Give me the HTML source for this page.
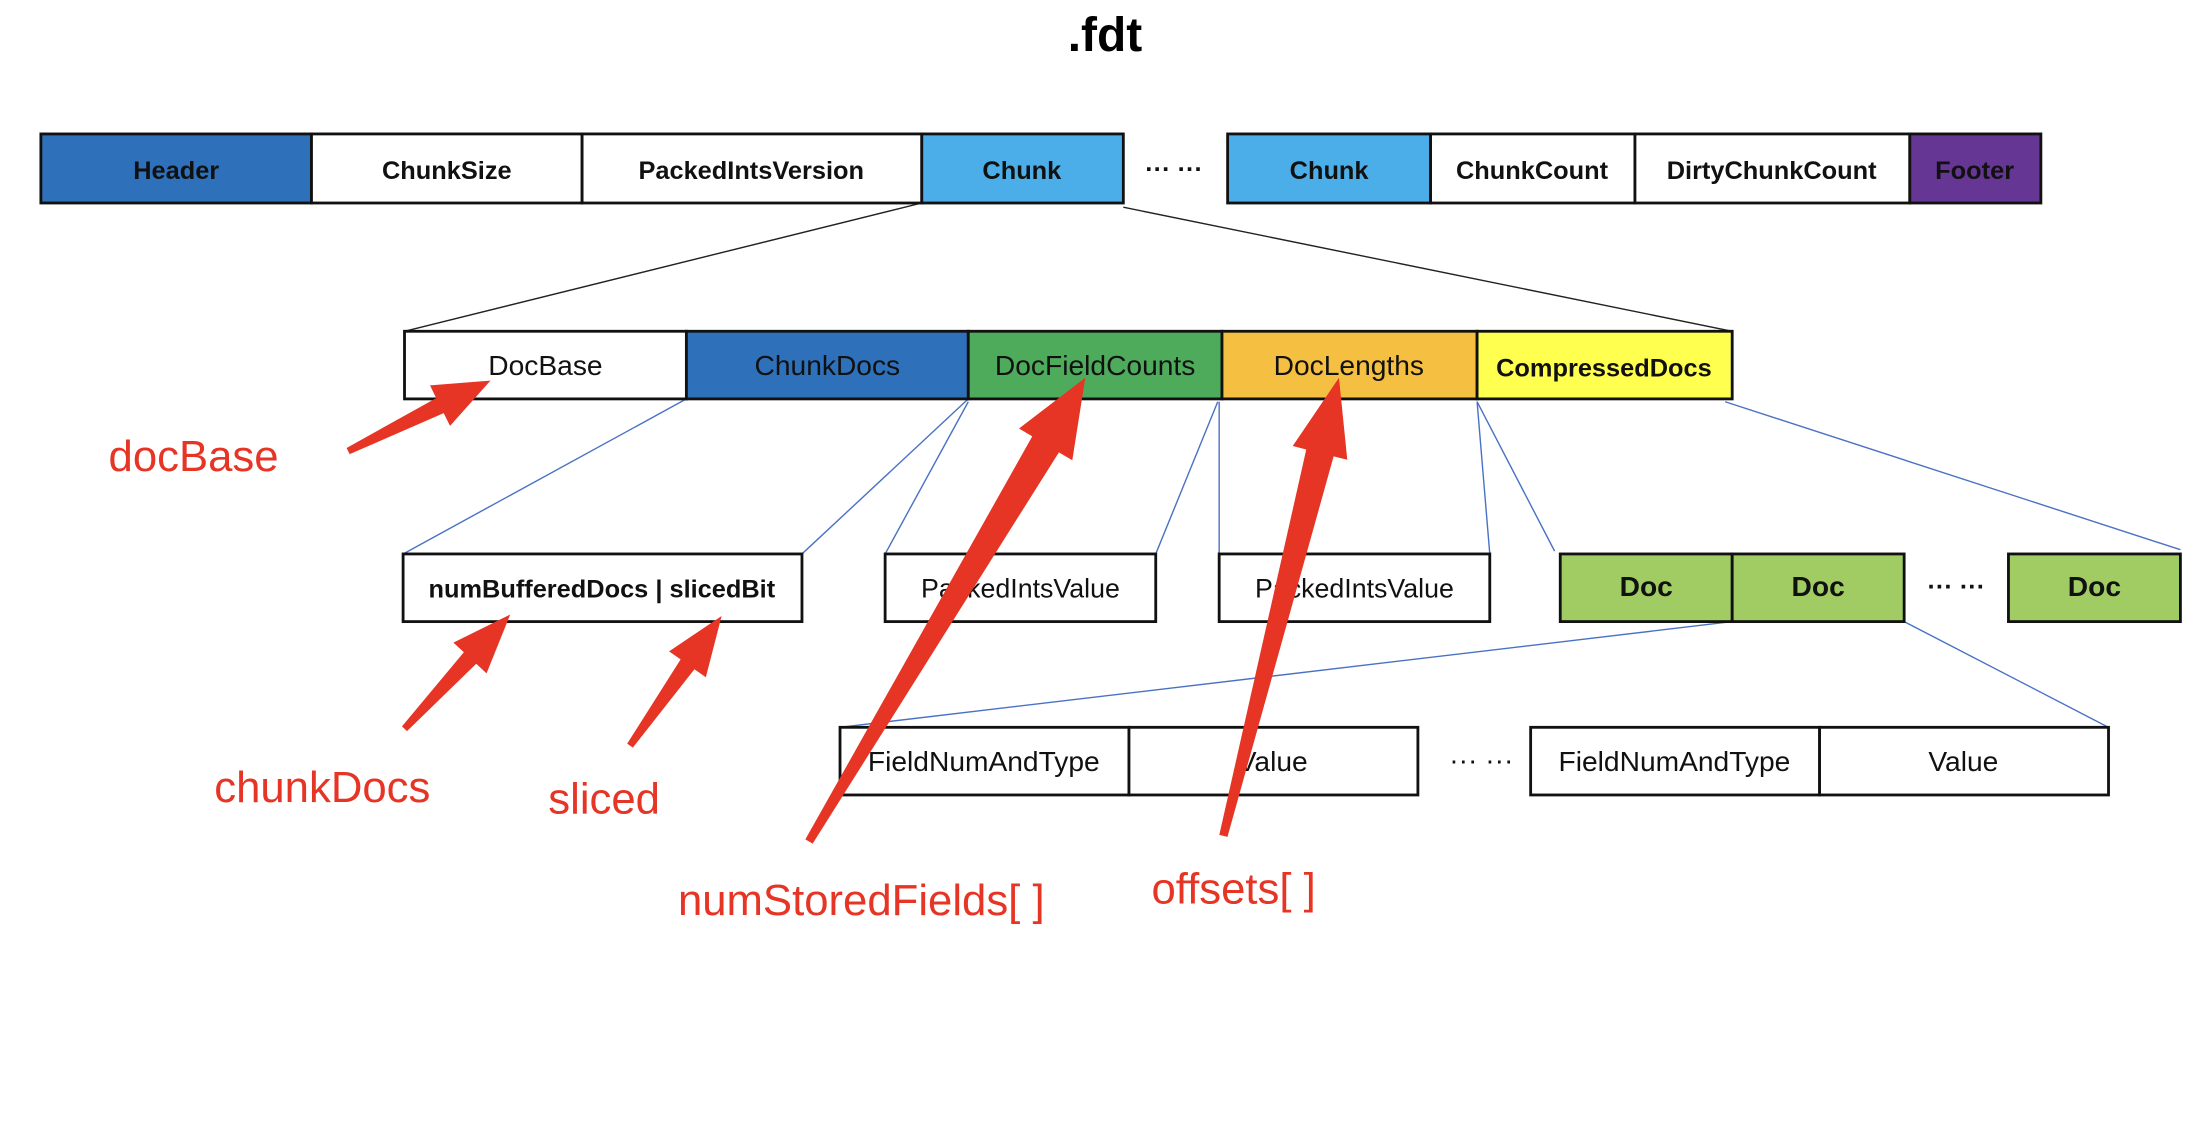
<!DOCTYPE html>
<html><head><meta charset="utf-8"><style>
html,body{margin:0;padding:0;background:#fff;}
svg{display:block}
text{font-family:"Liberation Sans",sans-serif;}
</style></head><body>
<svg id="s" width="2210" height="1122" viewBox="0 0 1568 796" xmlns="http://www.w3.org/2000/svg">
<rect width="1568" height="796" fill="#fff"/>
<text x="784" y="36" text-anchor="middle" font-size="34" font-weight="bold">.fdt</text>

<!-- connector lines -->
<g stroke="#222" stroke-width="1" fill="none">
<line x1="654" y1="144" x2="287" y2="235"/>
<line x1="797" y1="147" x2="1229" y2="235"/>
</g>
<g stroke="#4A72C4" stroke-width="1" fill="none">
<line x1="487" y1="283" x2="286" y2="393"/>
<line x1="687" y1="283" x2="569" y2="393"/>
<line x1="687" y1="285" x2="628" y2="393"/>
<line x1="864" y1="285" x2="820" y2="393"/>
<line x1="865" y1="285" x2="865" y2="393"/>
<line x1="1048" y1="285" x2="1057" y2="393"/>
<line x1="1048" y1="285" x2="1103" y2="391"/>
<line x1="1224" y1="285" x2="1547" y2="390"/>
<line x1="1229" y1="441" x2="596" y2="516"/>
<line x1="1351" y1="441" x2="1496" y2="516"/>
</g>

<g stroke="#111" stroke-width="2">
<!-- row1 -->
<rect x="29" y="95" width="192" height="49" fill="#2E70BA"/>
<rect x="221" y="95" width="192" height="49" fill="#fff"/>
<rect x="413" y="95" width="241" height="49" fill="#fff"/>
<rect x="654" y="95" width="143" height="49" fill="#4BAEE8"/>
<rect x="871" y="95" width="144" height="49" fill="#4BAEE8"/>
<rect x="1015" y="95" width="145" height="49" fill="#fff"/>
<rect x="1160" y="95" width="195" height="49" fill="#fff"/>
<rect x="1355" y="95" width="93" height="49" fill="#663695"/>
<!-- row2 -->
<rect x="287" y="235" width="200" height="48" fill="#fff"/>
<rect x="487" y="235" width="200" height="48" fill="#2E70BA"/>
<rect x="687" y="235" width="180" height="48" fill="#4EAB5C"/>
<rect x="867" y="235" width="181" height="48" fill="#F5BF42"/>
<rect x="1048" y="235" width="181" height="48" fill="#FFFF4F"/>
<!-- row3 -->
<rect x="286" y="393" width="283" height="48" fill="#fff"/>
<rect x="628" y="393" width="192" height="48" fill="#fff"/>
<rect x="865" y="393" width="192" height="48" fill="#fff"/>
<rect x="1107" y="393" width="122" height="48" fill="#A0CC63"/>
<rect x="1229" y="393" width="122" height="48" fill="#A0CC63"/>
<rect x="1425" y="393" width="122" height="48" fill="#A0CC63"/>
<!-- row4 -->
<rect x="596" y="516" width="205" height="48" fill="#fff"/>
<rect x="801" y="516" width="205" height="48" fill="#fff"/>
<rect x="1086" y="516" width="205" height="48" fill="#fff"/>
<rect x="1291" y="516" width="205" height="48" fill="#fff"/>
</g>

<g font-size="18" font-weight="bold" text-anchor="middle" fill="#111">
<text x="125" y="127">Header</text>
<text x="317" y="127">ChunkSize</text>
<text x="533" y="127">PackedIntsVersion</text>
<text x="725" y="127">Chunk</text>
<text x="943" y="127">Chunk</text>
<text x="1087" y="127">ChunkCount</text>
<text x="1257" y="127">DirtyChunkCount</text>
<text x="1401" y="127">Footer</text>
<text x="833" y="126">··· ···</text>
<text x="1138" y="267">CompressedDocs</text>
<text x="427" y="424">numBufferedDocs | slicedBit</text>
<text x="1168" y="423" font-size="20">Doc</text>
<text x="1290" y="423" font-size="20">Doc</text>
<text x="1486" y="423" font-size="20">Doc</text>
<text x="1388" y="422">··· ···</text>
</g>
<g font-size="20" text-anchor="middle" fill="#111">
<text x="387" y="266">DocBase</text>
<text x="587" y="266">ChunkDocs</text>
<text x="777" y="266">DocFieldCounts</text>
<text x="957" y="266">DocLengths</text>
<text x="724" y="424" font-size="19">PackedIntsValue</text>
<text x="961" y="424" font-size="19">PackedIntsValue</text>
<text x="698" y="547">FieldNumAndType</text>
<text x="903" y="547">Value</text>
<text x="1188" y="547">FieldNumAndType</text>
<text x="1393" y="547">Value</text>
<text x="1051" y="546">··· ···</text>
</g>

<g id="arrows" fill="#E63425"></g>
<g font-size="31" fill="#E63425">
<text x="77" y="334">docBase</text>
<text x="152" y="569">chunkDocs</text>
<text x="389" y="577">sliced</text>
<text x="481" y="649">numStoredFields[ ]</text>
<text x="817" y="641">offsets[ ]</text>
</g>
</svg>
<script>
function arrow(x0,y0,x1,y1,w0,w1,hw,hl){
  var dx=x1-x0,dy=y1-y0,L=Math.hypot(dx,dy),ux=dx/L,uy=dy/L,nx=-uy,ny=ux;
  var bx=x1-ux*hl,by=y1-uy*hl;
  var p=[[x0+nx*w0/2,y0+ny*w0/2],[bx+nx*w1/2,by+ny*w1/2],[bx+nx*hw/2,by+ny*hw/2],[x1,y1],
         [bx-nx*hw/2,by-ny*hw/2],[bx-nx*w1/2,by-ny*w1/2],[x0-nx*w0/2,y0-ny*w0/2]];
  var e=document.createElementNS("http://www.w3.org/2000/svg","polygon");
  e.setAttribute("points",p.map(function(q){return q[0].toFixed(1)+","+q[1].toFixed(1)}).join(" "));
  document.getElementById("arrows").appendChild(e);
}
arrow(247,320,348,270,5,12,32,40);
arrow(287,517,362,436,5,12,32,42);
arrow(447,529,512,437,5,12,32,42);
arrow(574,597,770,268,6,22,44,55);
arrow(868,593,950,268,6,20,40,55);
</script>
</body></html>
